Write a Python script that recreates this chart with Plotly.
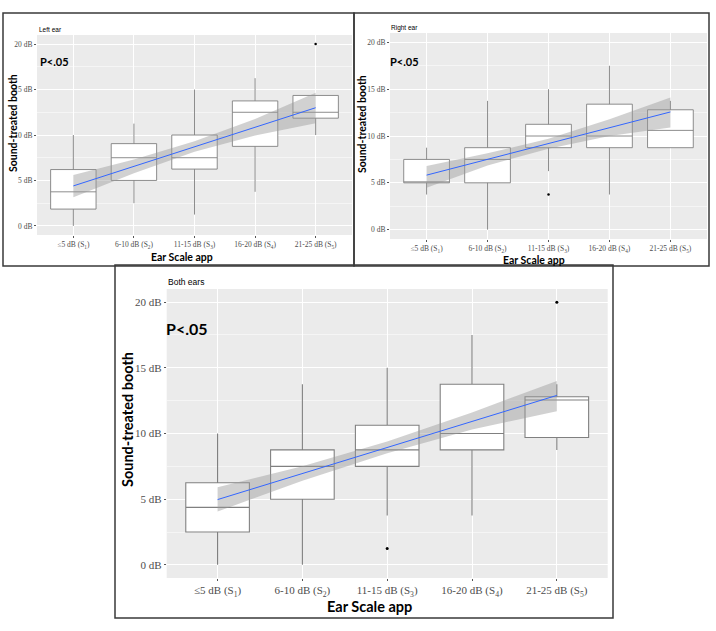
import plotly.graph_objects as go

W, H = 716, 631

# ---------------- data ----------------
categories = ["S1", "S2", "S3", "S4", "S5"]
tick_labels = ["≤5 dB (S<sub>1</sub>)", "6-10 dB (S<sub>2</sub>)", "11-15 dB (S<sub>3</sub>)",
               "16-20 dB (S<sub>4</sub>)", "21-25 dB (S<sub>5</sub>)"]
y_tickvals = [0, 5, 10, 15, 20]
y_ticktext = ["0 dB", "5 dB", "10 dB", "15 dB", "20 dB"]

# Left ear
left_low = [0, 2.5, 1.25, 3.75, 10.0]
left_q1 = [1.85, 5.0, 6.25, 8.75, 11.85]
left_med = [3.75, 7.5, 7.5, 12.5, 12.5]
left_q3 = [6.2, 9.05, 10.0, 13.75, 14.35]
left_high = [10.0, 11.25, 15.0, 16.25, 14.35]
left_out_x = ["S5"]
left_out_y = [20.0]
left_fit = [4.4, 6.55, 8.7, 10.85, 13.0]
left_fit_lo = [3.15, 5.8, 8.15, 9.95, 11.3]
left_fit_hi = [5.6, 7.3, 9.3, 11.75, 14.65]

# Right ear
right_low = [3.75, 0, 6.25, 3.75, 8.75]
right_q1 = [5.0, 5.0, 8.75, 8.75, 8.75]
right_med = [5.05, 7.5, 10.0, 10.0, 10.6]
right_q3 = [7.5, 8.75, 11.25, 13.4, 12.8]
right_high = [8.75, 13.75, 15.0, 17.5, 13.75]
right_out_x = ["S3"]
right_out_y = [3.75]
right_fit = [5.82, 7.5, 9.2, 10.88, 12.57]
right_fit_lo = [4.46, 6.85, 8.65, 10.0, 10.9]
right_fit_hi = [6.8, 8.15, 9.7, 11.8, 14.1]

# Both ears
both_low = [0, 0, 3.75, 3.75, 8.75]
both_q1 = [2.5, 5.0, 7.5, 8.75, 9.7]
both_med = [4.375, 7.5, 8.75, 10.0, 12.55]
both_q3 = [6.25, 8.75, 10.625, 13.75, 12.8]
both_high = [10.0, 13.75, 15.0, 17.5, 13.75]
both_out_x = ["S3", "S5"]
both_out_y = [1.25, 20.0]
both_fit = [4.97, 6.95, 8.93, 10.9, 12.9]
both_fit_lo = [4.06, 6.4, 8.5, 10.3, 11.7]
both_fit_hi = [5.9, 7.5, 9.4, 11.6, 14.0]

# ---------------- helpers ----------------
def px(x):
    return x / W

def py(y):
    return 1 - y / H

fig = go.Figure()

panels = [
    dict(ax="", low=left_low, q1=left_q1, med=left_med, q3=left_q3, high=left_high,
         ox=left_out_x, oy=left_out_y, fit=left_fit, lo=left_fit_lo, hi=left_fit_hi,
         dom_x=[px(37), px(352)], dom_y=[py(235), py(35)], tick=7.5, lw=0.9, ms=2.5),
    dict(ax="2", low=right_low, q1=right_q1, med=right_med, q3=right_q3, high=right_high,
         ox=right_out_x, oy=right_out_y, fit=right_fit, lo=right_fit_lo, hi=right_fit_hi,
         dom_x=[px(390), px(707)], dom_y=[py(239), py(33)], tick=7.5, lw=0.9, ms=2.5),
    dict(ax="3", low=both_low, q1=both_q1, med=both_med, q3=both_q3, high=both_high,
         ox=both_out_x, oy=both_out_y, fit=both_fit, lo=both_fit_lo, hi=both_fit_hi,
         dom_x=[px(166.7), px(607.7)], dom_y=[py(578), py(289)], tick=11, lw=1.1, ms=3),
]

box_line = "#808080"
for p in panels:
    xa = "x" + p["ax"]
    ya = "y" + p["ax"]
    fig.add_trace(go.Box(
        x=categories, q1=p["q1"], median=p["med"], q3=p["q3"],
        lowerfence=p["low"], upperfence=p["high"],
        boxpoints=False, width=0.75, whiskerwidth=0,
        fillcolor="white", line=dict(color=box_line, width=p["lw"]),
        xaxis=xa, yaxis=ya, showlegend=False, hoverinfo="skip"))
    fig.add_trace(go.Scatter(
        x=categories + categories[::-1], y=p["hi"] + p["lo"][::-1],
        fill="toself", fillcolor="rgba(153,153,153,0.45)", line=dict(width=0),
        mode="lines", xaxis=xa, yaxis=ya, showlegend=False, hoverinfo="skip"))
    fig.add_trace(go.Scatter(
        x=categories, y=p["fit"], mode="lines",
        line=dict(color="#3366FF", width=1),
        xaxis=xa, yaxis=ya, showlegend=False, hoverinfo="skip"))
    fig.add_trace(go.Scatter(
        x=p["ox"], y=p["oy"], mode="markers",
        marker=dict(color="black", size=p["ms"]),
        xaxis=xa, yaxis=ya, showlegend=False, hoverinfo="skip"))

    xkey = "xaxis" + p["ax"]
    ykey = "yaxis" + p["ax"]
    fig.layout[xkey] = dict(
        domain=p["dom_x"], anchor=ya, type="category",
        categoryorder="array", categoryarray=categories,
        range=[-0.6, 4.6], tickvals=categories, ticktext=tick_labels,
        showgrid=True, gridcolor="white", gridwidth=1, zeroline=False,
        ticks="outside", ticklen=2, tickcolor="#555555", tickwidth=0.8,
        tickfont=dict(family="Liberation Serif", size=p["tick"], color="#4d4d4d"),
        showline=False, fixedrange=True)
    fig.layout[ykey] = dict(
        domain=p["dom_y"], anchor=xa, range=[-1, 21],
        tickvals=y_tickvals, ticktext=y_ticktext,
        showgrid=True, gridcolor="white", gridwidth=1, zeroline=False,
        minor=dict(dtick=2.5, tick0=0, showgrid=True, gridcolor="#f5f5f5", gridwidth=0.6),
        ticks="outside", ticklen=2, tickcolor="#555555", tickwidth=0.8,
        tickfont=dict(family="Liberation Serif", size=p["tick"], color="#4d4d4d"),
        showline=False, fixedrange=True)

# panel backgrounds
shapes = []
for p in panels:
    shapes.append(dict(type="rect", xref="paper", yref="paper", layer="below",
                       x0=p["dom_x"][0], x1=p["dom_x"][1], y0=p["dom_y"][0], y1=p["dom_y"][1],
                       fillcolor="#EBEBEB", line=dict(width=0)))
# frames
frame_col = "#3a3a3a"
for (x0, y0, x1, y1) in [(3, 13, 354, 266), (354, 13, 709, 266), (115, 265, 613, 618)]:
    shapes.append(dict(type="rect", xref="paper", yref="paper", layer="above",
                       x0=px(x0), x1=px(x1), y0=py(y1), y1=py(y0),
                       line=dict(color=frame_col, width=1.5), fillcolor="rgba(0,0,0,0)"))

ann = []
def text(t, x, y, size, family="Lato", bold=False, xanchor="left", angle=0, color="black"):
    ann.append(dict(text=("<b>%s</b>" % t) if bold else t, x=px(x), y=py(y),
                    xref="paper", yref="paper", showarrow=False, xanchor=xanchor,
                    yanchor="middle", textangle=angle,
                    font=dict(family=family, size=size, color=color)))

# subplot titles
text("Left ear", 37, 30, 6.5, family="Liberation Sans")
text("Right ear", 389, 28, 6.5, family="Liberation Sans")
text("Both ears", 166, 282, 8.5, family="Liberation Sans")
# P values
text("P<.05", 38, 61, 11, bold=True)
text("P<.05", 388, 61, 11, bold=True)
text("P<.05", 164, 328, 16, bold=True)
# axis titles
text("Sound-treated booth", 13, 123, 10.5, bold=True, xanchor="center", angle=-90)
text("Sound-treated booth", 362, 124, 10.5, bold=True, xanchor="center", angle=-90)
text("Sound-treated booth", 127, 420, 14.5, bold=True, xanchor="center", angle=-90)
text("Ear Scale app", 182, 256.5, 10.5, bold=True, xanchor="center")
text("Ear Scale app", 534, 259.5, 10.5, bold=True, xanchor="center")
text("Ear Scale app", 369, 606, 14.5, bold=True, xanchor="center")

fig.update_layout(
    width=W, height=H, margin=dict(l=0, r=0, t=0, b=0),
    paper_bgcolor="white", plot_bgcolor="rgba(0,0,0,0)",
    shapes=shapes, annotations=ann, showlegend=False)

fig.write_html("out.html", config={"displayModeBar": False},
               post_script="document.body.style.margin='0';document.body.style.overflow='hidden';")
